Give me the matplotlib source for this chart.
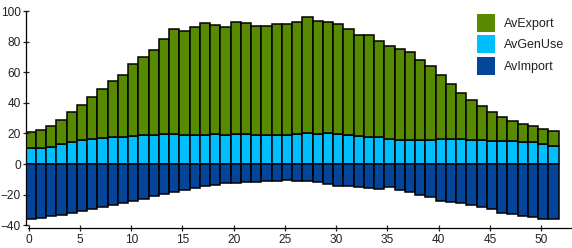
#!/usr/bin/env python3
"""Weekly average export / own use / import, stacked bars."""

import numpy as np
import matplotlib
matplotlib.use('Agg')
import matplotlib.pyplot as plt
from matplotlib.patches import Rectangle

plt.rcParams['font.family'] = ['Liberation Sans', 'DejaVu Sans']

weeks = list(range(52))

av_gen_use = [10.3, 10.3, 10.9, 12.9, 14.2, 15.5, 16.2, 16.8, 17.5, 17.5,
              18.1, 18.8, 18.8, 19.4, 19.4, 18.8, 18.8, 18.8, 19.4, 18.8,
              19.4, 19.4, 18.8, 18.8, 18.8, 18.8, 19.4, 20.1, 19.4, 20.1,
              19.4, 18.8, 18.1, 17.5, 17.5, 16.2, 15.5, 15.5, 15.5, 15.5,
              16.2, 16.2, 16.2, 15.5, 15.5, 14.8, 14.8, 14.8, 14.2, 14.2,
              12.9, 11.6]

av_export = [10.4, 11.7, 13.8, 15.7, 19.6, 22.9, 27.5, 32.1, 36.6, 40.6,
             47.2, 51.1, 55.7, 62.3, 68.8, 68.1, 70.7, 73.3, 71.6, 70.7,
             73.4, 72.7, 71.4, 71.4, 72.7, 72.7, 73.4, 76.0, 74.0, 72.7,
             72.1, 69.4, 66.2, 66.8, 62.8, 60.9, 59.6, 57.6, 52.4, 48.5,
             41.9, 36.0, 30.1, 26.2, 22.3, 19.0, 15.8, 13.1, 11.8, 10.5,
             9.8, 9.8]

av_import = [-36.2, -35.6, -34.3, -33.6, -32.3, -31.0, -29.7, -28.4, -27.0, -25.7,
             -24.4, -23.1, -21.2, -19.8, -18.5, -17.2, -15.9, -14.6, -14.0, -12.6,
             -12.6, -12.0, -12.0, -11.3, -11.3, -10.7, -11.3, -11.3, -12.0, -13.3,
             -14.6, -14.6, -15.3, -15.9, -16.6, -15.3, -17.2, -18.5, -20.5, -21.8,
             -24.4, -25.1, -25.7, -27.0, -28.4, -29.7, -32.3, -32.9, -34.3, -34.9,
             -36.2, -36.2]

series = ['AvExport', 'AvGenUse', 'AvImport']
colors = {'AvExport': '#578a00', 'AvGenUse': '#00bfff', 'AvImport': '#04459a'}

fig = plt.figure(figsize=(5.72, 2.48), dpi=100)
ax = fig.add_axes([25.5 / 572, (248 - 225.1) / 248, 546 / 572, 213.8 / 248])

x = np.array(weeks) - 0.3
bar_kw = dict(width=1.0, align='edge', edgecolor='black', linewidth=1.1)
ax.bar(x, av_gen_use, color=colors['AvGenUse'], **bar_kw)
ax.bar(x, av_export, bottom=av_gen_use, color=colors['AvExport'], **bar_kw)
ax.bar(x, av_import, color=colors['AvImport'], **bar_kw)

ax.set_xlim(-0.31, 52.96)
ax.set_ylim(-40, 100)
ax.set_xticks(range(0, 51, 5))
ax.set_yticks(range(-40, 101, 20))

ax.spines['top'].set_visible(False)
ax.spines['right'].set_visible(False)
ax.spines['left'].set_bounds(-40, 100)
ax.spines['bottom'].set_position(('outward', 2.2))
ax.spines['bottom'].set_bounds(-0.05, 52.96)
for s in ('left', 'bottom'):
    ax.spines[s].set_linewidth(0.9)

ax.tick_params(axis='y', direction='inout', length=5, width=0.9, pad=1,
               labelsize=8.6, colors='#222222')
ax.tick_params(axis='x', direction='inout', length=5, width=0.9, pad=1.5,
               labelsize=8.6, colors='#222222')

# Legend, drawn by hand to sit like the original
for k, name in enumerate(series):
    top = 14 + k * 21.3
    fig.patches.append(Rectangle((477.3 / 572, 1 - (top + 18) / 248), 18 / 572, 18 / 248,
                                 transform=fig.transFigure, facecolor=colors[name],
                                 edgecolor='none'))
    fig.text(504 / 572, 1 - (top + 10) / 248, name, ha='left', va='center',
             fontsize=9, color='#222222')

plt.savefig('out.png', dpi=100)
plt.close()
